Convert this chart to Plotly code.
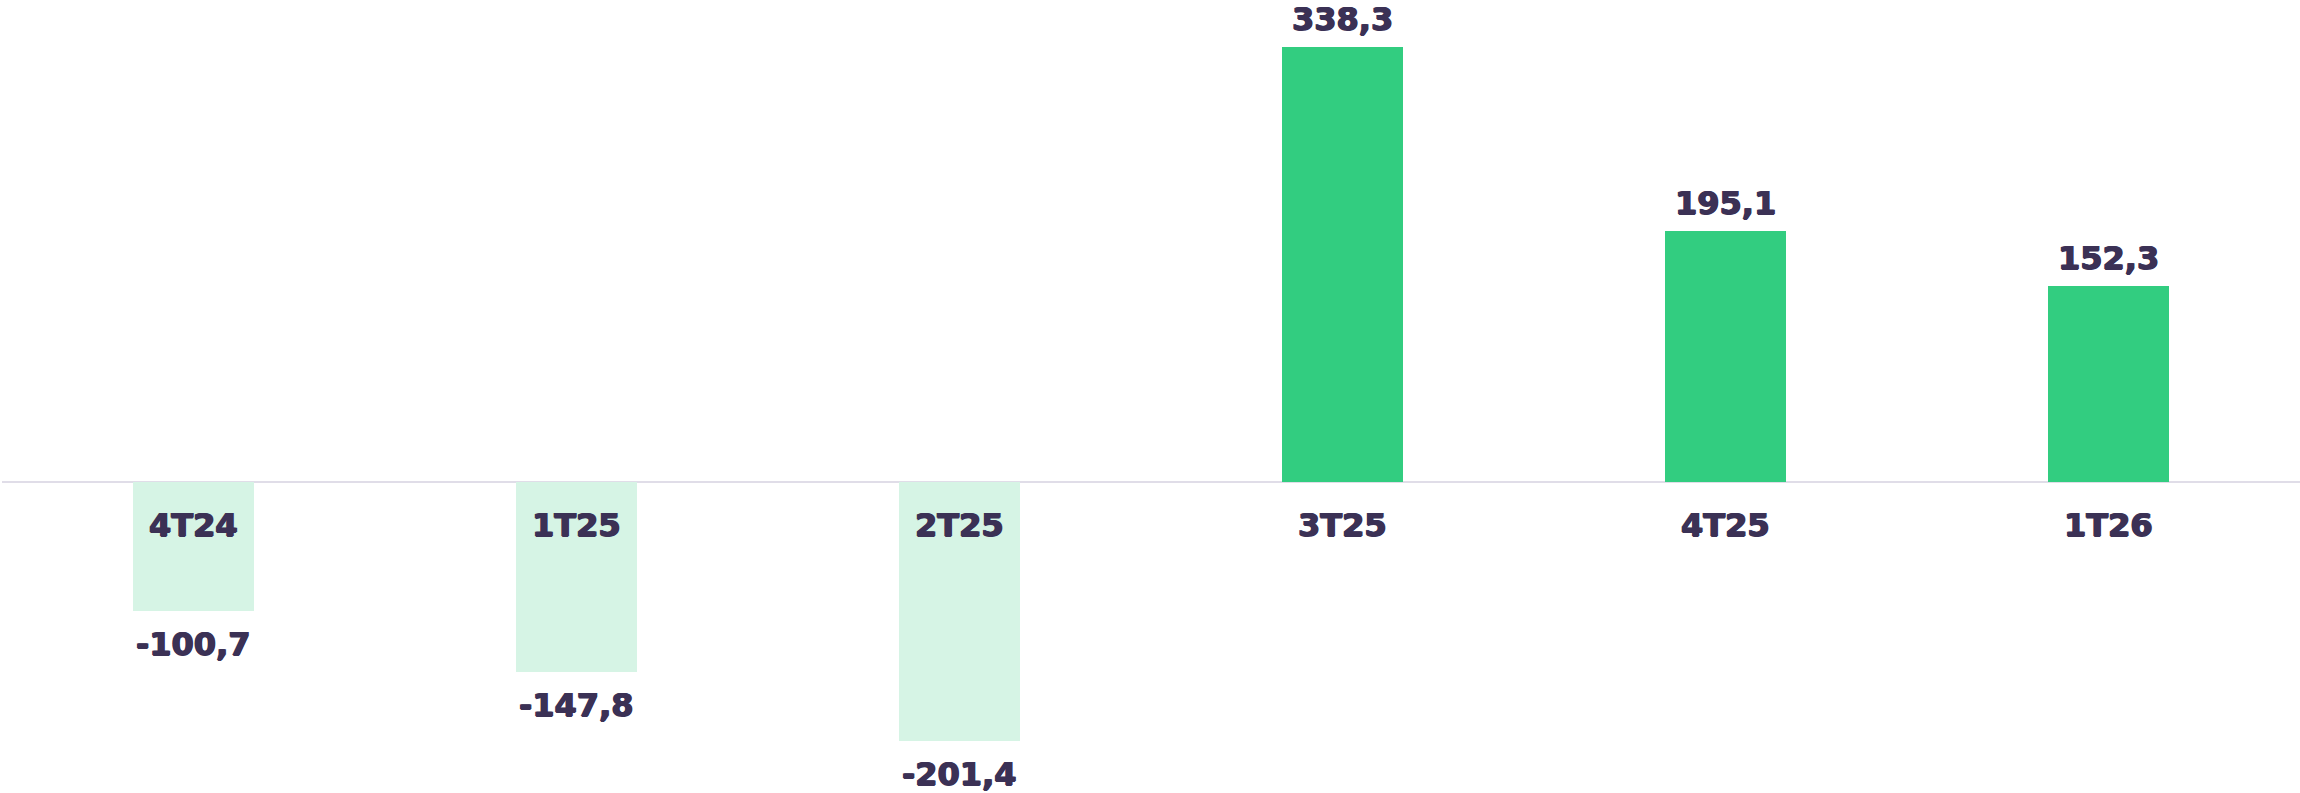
import plotly.graph_objects as go

categories = ["4T24", "1T25", "2T25", "3T25", "4T25", "1T26"]
values = [-100.7, -147.8, -201.4, 338.3, 195.1, 152.3]
value_labels = ["-100,7", "-147,8", "-201,4", "338,3", "195,1", "152,3"]

POS_COLOR = "#32cd80"
NEG_COLOR = "#d6f4e5"
TEXT_COLOR = "#3b3155"
FONT = "DejaVu Sans, Verdana, sans-serif"
SHADOW = f"0.8px 0 0 {TEXT_COLOR}, -0.8px 0 0 {TEXT_COLOR}, 0 0.5px 0 {TEXT_COLOR}"

colors = [POS_COLOR if v >= 0 else NEG_COLOR for v in values]

fig = go.Figure()
fig.add_trace(go.Bar(
    x=categories, y=values, marker=dict(color=colors, line=dict(width=0)),
    width=0.316, hoverinfo="skip", showlegend=False,
))

annotations = []
for c, v, t in zip(categories, values, value_labels):
    annotations.append(dict(
        x=c, y=v, xref="x", yref="y", text=f"<b>{t}</b>", showarrow=False,
        yanchor="middle", yshift=28 if v >= 0 else -33,
        font=dict(family=FONT, size=32, color=TEXT_COLOR, shadow=SHADOW),
    ))
    annotations.append(dict(
        x=c, y=0, xref="x", yref="y", text=f"<b>{c}</b>", showarrow=False,
        yanchor="middle", yshift=-43,
        font=dict(family=FONT, size=32, color=TEXT_COLOR, shadow=SHADOW),
    ))

fig.update_layout(
    width=2300, height=793,
    margin=dict(l=2, r=0, t=0, b=0),
    paper_bgcolor="white", plot_bgcolor="white",
    xaxis=dict(range=[-0.5, 5.5], showticklabels=False, showgrid=False,
               zeroline=False, showline=False, fixedrange=True),
    yaxis=dict(range=[-242, 375.1], showticklabels=False, showgrid=False,
               zeroline=True, zerolinecolor="#e0dde8", zerolinewidth=2,
               showline=False, fixedrange=True),
    annotations=annotations,
    bargap=0,
)

fig.write_html(
    "out.html",
    config={"displayModeBar": False},
    post_script="document.body.style.margin='0';document.body.style.overflow='hidden';",
)
